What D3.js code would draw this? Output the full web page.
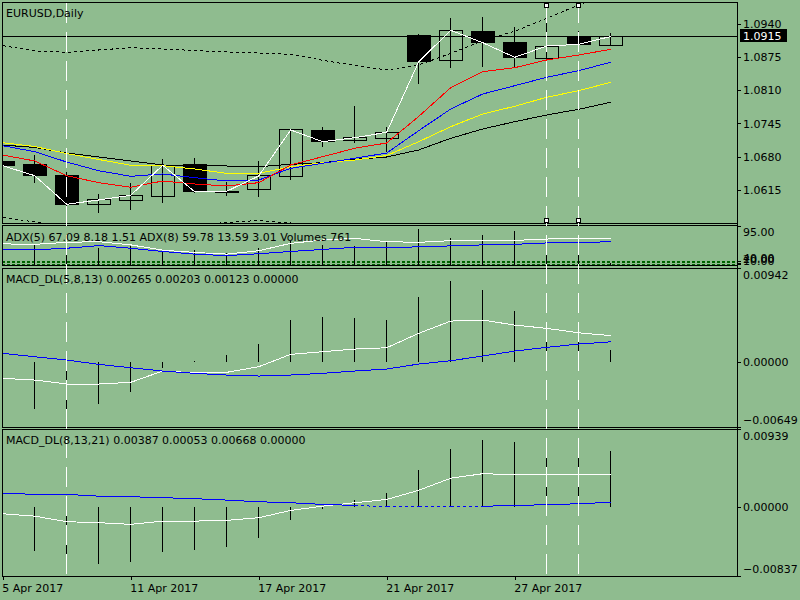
<!DOCTYPE html>
<html>
<head>
<meta charset="utf-8">
<title>EURUSD,Daily</title>
<script src="https://cdnjs.cloudflare.com/ajax/libs/d3/7.8.5/d3.min.js"></script>
<style>
body {
  margin: 0px;
  overflow: hidden;
  background: #8fbc8f;
}
text {
  font-family: 'DejaVu Sans', sans-serif;
  font-size: 11px;
  fill: #000;
}
.crisp { shape-rendering: crispEdges; }
</style>
</head>
<body>
<svg width="800" height="600"></svg>
<script>
(function (d3) {
  'use strict';

  // ---- data ----
  const dates = ['2017-04-05','2017-04-06','2017-04-07','2017-04-10','2017-04-11','2017-04-12','2017-04-13',
    '2017-04-14','2017-04-17','2017-04-18','2017-04-19','2017-04-20','2017-04-21','2017-04-24','2017-04-25',
    '2017-04-26','2017-04-27','2017-04-28','2017-05-01','2017-05-02'];

  const open  = [1.06711,1.06639,1.06443,1.05871,1.05949,1.06027,1.06658,1.06117,1.06164,1.06410,1.07303,1.07113,1.07160,1.09179,1.08685,1.09251,1.09042,1.08724,1.09146,1.08970];
  const high  = [1.06775,1.06834,1.06502,1.06072,1.06293,1.06750,1.06775,1.06312,1.06717,1.07348,1.07387,1.07792,1.07387,1.09199,1.09506,1.09537,1.09330,1.09472,1.09257,1.09212];
  const low   = [1.06580,1.06281,1.05818,1.05695,1.05759,1.05890,1.06086,1.06039,1.06019,1.06345,1.06996,1.07074,1.06898,1.08216,1.08528,1.08560,1.08528,1.08528,1.08886,1.08965];
  const close = [1.06625,1.06430,1.05871,1.05955,1.06046,1.06633,1.06117,1.06125,1.06424,1.07323,1.07094,1.07172,1.07278,1.08657,1.09271,1.09029,1.08743,1.08964,1.08997,1.09150];

  const maRed    = [1.06834,1.06717,1.06430,1.06293,1.06203,1.06326,1.06267,1.06228,1.06293,1.06639,1.06801,1.06965,1.07069,1.07588,1.08149,1.08462,1.08540,1.08691,1.08788,1.08900];
  const maBlue   = [1.07016,1.06898,1.06697,1.06527,1.06418,1.06463,1.06390,1.06326,1.06345,1.06574,1.06672,1.06770,1.06873,1.07309,1.07733,1.08026,1.08188,1.08353,1.08482,1.08646];
  const maYellow = [1.07074,1.07000,1.06863,1.06746,1.06633,1.06625,1.06560,1.06476,1.06476,1.06605,1.06684,1.06736,1.06824,1.07094,1.07387,1.07635,1.07786,1.07962,1.08091,1.08255];
  const maBlack  = [1.07029,1.06981,1.06873,1.06795,1.06717,1.06639,1.06625,1.06619,1.06605,1.06652,1.06684,1.06750,1.06795,1.06932,1.07160,1.07342,1.07485,1.07616,1.07727,1.07864];
  const bandUp   = [1.08970,1.08866,1.08841,1.08886,1.08931,1.08906,1.08876,1.08847,1.08827,1.08802,1.08685,1.08583,1.08495,1.08593,1.08820,1.09066,1.09253,1.09506,1.09766,1.10020];
  const bandDn   = [1.05613,1.05525,1.05447,1.05407,1.05407,1.05427,1.05466,1.05515,1.05554,1.05505,1.05368,1.05075,1.04821,1.04196,1.03414,1.02828,1.02437,1.02144,1.01851,1.01655];
  const lastPrice = 1.0915;
  const priceTicks = [1.0940, 1.0875, 1.0810, 1.0745, 1.0680, 1.0615];

  const volumes = [null,9760,13660,8290,9270,6830,7320,5850,8290,11710,9760,9270,10980,17420,13020,14490,16590,13660,7170,761];
  const adx5 = [54.5,53.6,58.0,59.6,52.3,40.3,35.2,31.4,39.0,55.8,63.3,66.9,59.6,58.0,61.8,63.3,62.4,65.5,66.9,67.09];
  const adx8 = [42.5,41.2,44.7,50.7,44.7,37.4,31.4,27.9,32.3,37.4,41.9,46.9,46.3,47.8,50.0,52.3,53.6,56.7,56.7,59.78];
  const adxMax = 95;
  const adxLevels = [40, 20, 10];

  const m1Main = [-0.00162,-0.00179,-0.00219,-0.00219,-0.00202,-0.00089,-0.00106,-0.00102,-0.00046,0.00078,0.00104,0.00131,0.00144,0.00288,0.00411,0.00421,0.00371,0.00338,0.00294,0.00265];
  const m1Sig  = [0.00088,0.00054,0.00021,-0.00022,-0.00056,-0.00089,-0.00112,-0.00129,-0.00139,-0.00129,-0.00112,-0.00089,-0.00069,-0.00019,0.00014,0.00061,0.00111,0.00148,0.00181,0.00203];
  const m1Hist = [null,-0.00469,-0.00486,-0.00416,-0.00296,-0.00056,0.00011,0.00071,0.00181,0.00421,0.00448,0.00441,0.00421,0.00648,0.00814,0.00721,0.00511,0.00361,0.00231,0.00123];
  const m1Ticks = [0.00942, 0, -0.00649];

  const m2Main = [-0.00085,-0.00114,-0.00181,-0.00193,-0.00213,-0.00174,-0.00174,-0.00165,-0.00133,-0.00045,0.00007,0.00048,0.00088,0.00199,0.00344,0.00399,0.00387,0.00387,0.00387,0.00387];
  const m2Sig  = [0.00157,0.00152,0.00149,0.00128,0.00121,0.00109,0.00097,0.00080,0.00060,0.00048,0.00028,0.00016,0,0,0,0.00005,0.00016,0.00024,0.00036,0.00053];
  const m2Hist = [null,-0.00536,-0.00657,-0.00697,-0.00669,-0.00548,-0.00524,-0.00488,-0.00379,-0.00162,-0.00033,0.00076,0.00161,0.00438,0.00692,0.00801,0.00785,0.00773,0.00728,0.00668];
  const m2Ticks = [0.00939, 0, -0.00837];

  const dateTicks = ['2017-04-05','2017-04-11','2017-04-17','2017-04-21','2017-04-27'];
  const vLines = ['2017-04-07','2017-04-28','2017-05-01'];
  const selectedLines = ['2017-04-28','2017-05-01'];

  const titleMain = 'EURUSD,Daily';
  const titleAdx = 'ADX(5) 67.09 8.18 1.51 ADX(8) 59.78 13.59 3.01 Volumes 761';
  const titleM1 = 'MACD_DL(5,8,13) 0.00265 0.00203 0.00123 0.00000';
  const titleM2 = 'MACD_DL(8,13,21) 0.00387 0.00053 0.00668 0.00000';

  // ---- layout ----
  const svg = d3.select('svg');
  const plotL = 2, plotR = 737;
  const panels = { main: [2, 223], adx: [225, 265], m1: [268, 427], m2: [429, 576] };
  const barStep = 32, bodyW = 23;

  const x = d3.scaleLinear()
    .domain([0, dates.length - 1])
    .range([2.7, 2.7 + barStep * (dates.length - 1)]);
  const xd = (d) => x(dates.indexOf(d));

  const priceY = d3.scaleLinear().domain([1.05505, 1.09824]).range([223, 2]);
  const adxY = d3.scaleLinear().domain([0, adxMax]).range([268, 226]);
  const volY = d3.scaleLinear().domain([0, 20000]).range([265, 224]);
  const levelY = d3.scaleLog().domain([10, 40]).range([264, 261]);
  const m1Y = d3.scaleLinear().domain([-0.00649, 0.00942]).range([427, 268]);
  const m2Y = d3.scaleLinear().domain([-0.00837, 0.00939]).range([576, 429]);

  const defs = svg.append('defs');
  Object.entries(panels).forEach(([k, p]) => {
    defs.append('clipPath').attr('id', 'clip-' + k)
      .append('rect').attr('x', plotL).attr('y', p[0])
      .attr('width', plotR - plotL).attr('height', p[1] - p[0]);
  });
  const layer = (k) => svg.append('g').attr('clip-path', `url(#clip-${k})`).attr('class', 'crisp');

  const lineOf = (yScale) => d3.line()
    .defined((d) => d != null)
    .x((d, i) => x(i))
    .y((d) => yScale(d));

  // ---- main panel ----
  const gm = layer('main');
  gm.append('line')
    .attr('x1', plotL).attr('x2', plotR)
    .attr('y1', priceY(lastPrice)).attr('y2', priceY(lastPrice))
    .attr('stroke', '#000');

  [bandUp, bandDn].forEach((s) => {
    gm.append('path').datum(s).attr('d', lineOf(priceY))
      .attr('fill', 'none').attr('stroke', '#000').attr('stroke-dasharray', '3,3');
  });

  const idx = d3.range(dates.length);
  gm.selectAll('.wick').data(idx).enter().append('line')
    .attr('class', 'wick')
    .attr('x1', (i) => x(i)).attr('x2', (i) => x(i))
    .attr('y1', (i) => priceY(high[i])).attr('y2', (i) => priceY(low[i]))
    .attr('stroke', '#000');
  gm.selectAll('.body').data(idx).enter().append('rect')
    .attr('class', 'body')
    .attr('x', (i) => x(i) - bodyW / 2)
    .attr('width', bodyW)
    .attr('y', (i) => priceY(Math.max(open[i], close[i])))
    .attr('height', (i) => Math.max(1, Math.abs(priceY(open[i]) - priceY(close[i]))))
    .attr('fill', (i) => close[i] < open[i] ? '#000' : 'none')
    .attr('stroke', '#000');

  [[maBlack, '#000'], [maYellow, '#ffff00'], [maBlue, '#0000ff'], [maRed, '#ff0000'], [close, '#fff']]
    .forEach(([s, c]) => {
      gm.append('path').datum(s).attr('d', lineOf(priceY))
        .attr('fill', 'none').attr('stroke', c);
    });

  // ---- ADX / volumes panel ----
  const ga = layer('adx');
  adxLevels.forEach((v) => {
    ga.append('line').attr('x1', plotL).attr('x2', plotR)
      .attr('y1', levelY(v)).attr('y2', levelY(v))
      .attr('stroke', '#006400').attr('stroke-dasharray', '3,2');
  });
  ga.selectAll('.vol').data(idx.filter((i) => volumes[i] != null)).enter().append('line')
    .attr('x1', (i) => x(i)).attr('x2', (i) => x(i))
    .attr('y1', volY(0)).attr('y2', (i) => volY(volumes[i]))
    .attr('stroke', '#000');
  ga.append('path').datum(adx5).attr('d', lineOf(adxY)).attr('fill', 'none').attr('stroke', '#fff');
  ga.append('path').datum(adx8).attr('d', lineOf(adxY)).attr('fill', 'none').attr('stroke', '#0000ff');

  // ---- MACD panels ----
  function macdPanel(key, yScale, hist, main, sig, dashedZero) {
    const g = layer(key);
    g.selectAll('.h').data(idx.filter((i) => hist[i] != null)).enter().append('line')
      .attr('x1', (i) => x(i)).attr('x2', (i) => x(i))
      .attr('y1', yScale(0)).attr('y2', (i) => yScale(hist[i]))
      .attr('stroke', '#000').attr('stroke-width', 1.3);
    g.append('path').datum(main).attr('d', lineOf(yScale)).attr('fill', 'none').attr('stroke', '#fff');
    const seg = d3.line().x((d) => x(d)).y((d) => yScale(sig[d]));
    for (let i = 0; i < sig.length - 1; i++) {
      const dash = dashedZero && (sig[i] === 0 || sig[i + 1] === 0);
      g.append('path').attr('d', seg([i, i + 1]))
        .attr('fill', 'none').attr('stroke', '#0000ff')
        .attr('stroke-dasharray', dash ? '3,3' : null);
    }
  }
  macdPanel('m1', m1Y, m1Hist, m1Main, m1Sig, false);
  macdPanel('m2', m2Y, m2Hist, m2Main, m2Sig, true);

  // ---- frames ----
  Object.values(panels).forEach((p) => {
    svg.append('rect').attr('class', 'crisp')
      .attr('x', plotL).attr('y', p[0])
      .attr('width', plotR - plotL).attr('height', p[1] - p[0])
      .attr('fill', 'none').attr('stroke', '#000');
  });

  // ---- vertical line objects ----
  const gv = svg.append('g').attr('class', 'crisp');
  gv.selectAll('line').data(vLines).enter().append('line')
    .attr('x1', xd).attr('x2', xd)
    .attr('y1', panels.main[0] + 1).attr('y2', panels.m2[1] - 1)
    .attr('stroke', '#fff').attr('stroke-dasharray', '20,9');
  selectedLines.forEach((d) => {
    [panels.main[0] + 3, panels.main[1] - 3].forEach((yy) => {
      gv.append('rect').attr('x', xd(d) - 2).attr('y', yy - 2)
        .attr('width', 4).attr('height', 4)
        .attr('fill', '#fff').attr('stroke', '#000');
    });
  });

  // ---- right scale ----
  svg.append('line').attr('class', 'crisp')
    .attr('x1', plotR).attr('x2', plotR)
    .attr('y1', panels.main[0]).attr('y2', panels.m2[1])
    .attr('stroke', '#000');

  function rightAxis(yScale, values, fmt, p) {
    const g = svg.append('g')
      .attr('class', 'crisp')
      .attr('transform', `translate(${plotR},0)`)
      .call(d3.axisRight(yScale).tickValues(values).tickSize(4).tickPadding(2).tickFormat(fmt));
    g.select('.domain').remove();
    g.selectAll('.tick line').attr('stroke', '#000');
    g.selectAll('.tick text')
      .attr('y', (d) => {
        const yy = yScale(d);
        return Math.min(Math.max(yy, p[0] + 7), p[1] - 7) - yy;
      });
    return g;
  }
  rightAxis(priceY, priceTicks, d3.format('.4f'), [-100, 1000]);
  rightAxis(adxY, [adxMax], d3.format('.2f'), panels.adx);
  const lv = rightAxis(levelY, adxLevels, d3.format('.2f'), [-100, 1000]);
  lv.selectAll('.tick text').attr('y', -3.5);
  rightAxis(m1Y, m1Ticks, d3.format('.5f'), panels.m1);
  rightAxis(m2Y, m2Ticks, d3.format('.5f'), panels.m2);

  // current price marker
  svg.append('rect').attr('class', 'crisp')
    .attr('x', 740).attr('y', priceY(lastPrice) - 7)
    .attr('width', 47).attr('height', 13).attr('fill', '#000');
  svg.append('text')
    .attr('x', 743).attr('y', priceY(lastPrice) + 4)
    .style('fill', '#fff')
    .text(d3.format('.4f')(lastPrice));

  // ---- time axis ----
  const parse = d3.timeParse('%Y-%m-%d');
  const fmtDate = d3.timeFormat('%-d %b %Y');
  const xa = svg.append('g')
    .attr('class', 'crisp')
    .attr('transform', `translate(0,${panels.m2[1]})`)
    .call(d3.axisBottom(x)
      .tickValues(dateTicks.map((d) => dates.indexOf(d)))
      .tickSize(4).tickPadding(3)
      .tickFormat((i) => fmtDate(parse(dates[i]))));
  xa.select('.domain').remove();
  xa.selectAll('.tick line').attr('stroke', '#000');
  xa.selectAll('.tick text').attr('text-anchor', 'start').attr('x', -1).attr('dy', '0.85em');

  // ---- window titles ----
  svg.append('text').attr('x', 6).attr('y', 16.5).text(titleMain);
  svg.append('text').attr('x', 6).attr('y', 241).text(titleAdx);
  svg.append('text').attr('x', 6).attr('y', 283).text(titleM1);
  svg.append('text').attr('x', 6).attr('y', 444).text(titleM2);

}(d3));
</script>
</body>
</html>
